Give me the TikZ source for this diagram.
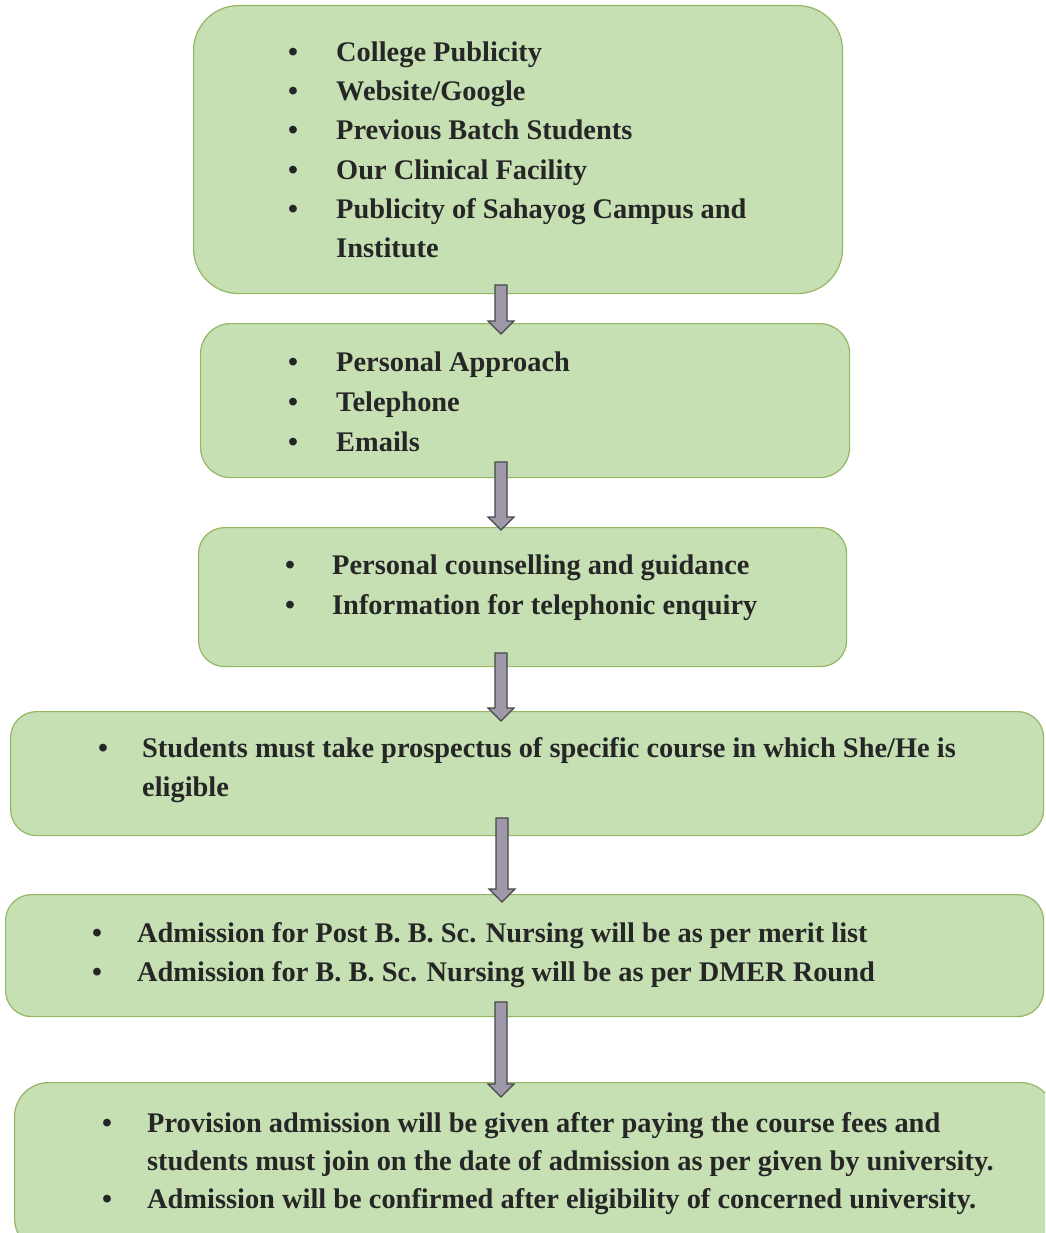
\documentclass[tikz,border=0pt]{standalone}
\usepackage{fontspec}
\setmainfont{Liberation Serif}
\usetikzlibrary{calc}
\definecolor{boxfill}{RGB}{198,224,180}
\definecolor{boxline}{RGB}{150,182,100}
\definecolor{arrfill}{RGB}{158,152,168}
\definecolor{arrline}{RGB}{70,70,75}
\definecolor{txtcol}{RGB}{38,38,38}
\newcommand\blockarrow[2]{%
  \draw[arrowst] ($(#1)+(-6,0)$) -- ($(#2)+(-6,-13)$) -- ($(#2)+(-13,-13)$) -- (#2)
    -- ($(#2)+(13,-13)$) -- ($(#2)+(6,-13)$) -- ($(#1)+(6,0)$) -- cycle;}
\newcommand\bl[1]{\makebox[0pt]{\textbullet}\hspace*{#1pt}}
\begin{document}
\begin{tikzpicture}[x=1pt,y=-1pt,
  flowbox/.style={draw=boxline, line width=1.2pt, fill=boxfill, anchor=north west, inner sep=0pt},
  txt/.style={anchor=base west, inner sep=0pt, text=txtcol, font=\fontsize{28.4}{34}\selectfont\bfseries},
  arrowst/.style={draw=arrline, fill=arrfill, line width=1.1pt, line join=miter}]
\clip (0,0) rectangle (1045,1233);
\fill[white] (0,0) rectangle (1045,1233);
% boxes
\node[flowbox, rounded corners=45pt, minimum width=649pt, minimum height=288pt] (b1) at (193,5) {};
\node[flowbox, rounded corners=30pt, minimum width=649pt, minimum height=154pt] (b2) at (200,323) {};
\node[flowbox, rounded corners=26pt, minimum width=648pt, minimum height=139pt] (b3) at (198,527) {};
\node[flowbox, rounded corners=26pt, minimum width=1033pt, minimum height=124pt] (b4) at (10,711) {};
\node[flowbox, rounded corners=26pt, minimum width=1038pt, minimum height=122pt] (b5) at (5,894) {};
\node[flowbox, rounded corners=34pt, minimum width=1040pt, minimum height=170pt] (b6) at (14,1082) {};
% box 1 text
\node[txt] (t11) at (293,62) {\bl{43}College Publicity};
\node[txt] (t12) at (293,101) {\bl{43}Website/Google};
\node[txt] (t13) at (293,140) {\bl{43}Previous Batch Students};
\node[txt] (t14) at (293,180) {\bl{43}Our Clinical Facility};
\node[txt] (t15) at (293,219) {\bl{43}Publicity of Sahayog Campus and};
\node[txt] (t16) at (336,258) {Institute};
% box 2 text
\node[txt] (t21) at (293,371) {\bl{43}Personal Approach};
\node[txt] (t22) at (293,411) {\bl{43}Telephone};
\node[txt] (t23) at (293,451) {\bl{43}Emails};
% box 3 text
\node[txt] (t31) at (290,574) {\bl{42}Personal counselling and guidance};
\node[txt] (t32) at (290,614) {\bl{42}Information for telephonic enquiry};
% box 4 text
\node[txt] (t41) at (103,757) {\bl{39}Students must take prospectus of specific course in which She/He is};
\node[txt] (t42) at (142,796) {eligible};
% box 5 text
\node[txt] (t51) at (97,942) {\bl{40}Admission for Post B. B. Sc. Nursing will be as per merit list};
\node[txt] (t52) at (97,981) {\bl{40}Admission for B. B. Sc. Nursing will be as per DMER Round};
% box 6 text
\node[txt] (t61) at (107,1132) {\bl{40}Provision admission will be given after paying the course fees and};
\node[txt] (t62) at (147,1170) {students must join on the date of admission as per given by university.};
\node[txt] (t63) at (107,1208) {\bl{40}Admission will be confirmed after eligibility of concerned university.};
% arrows
\coordinate (a1s) at (501,285); \coordinate (a1e) at (501,334);
\coordinate (a2s) at (501,462); \coordinate (a2e) at (501,530);
\coordinate (a3s) at (501,653); \coordinate (a3e) at (501,721);
\coordinate (a4s) at (502,818); \coordinate (a4e) at (502,902);
\coordinate (a5s) at (501,1002); \coordinate (a5e) at (501,1097);
\blockarrow{a1s}{a1e}
\blockarrow{a2s}{a2e}
\blockarrow{a3s}{a3e}
\blockarrow{a4s}{a4e}
\blockarrow{a5s}{a5e}
\end{tikzpicture}
\end{document}
